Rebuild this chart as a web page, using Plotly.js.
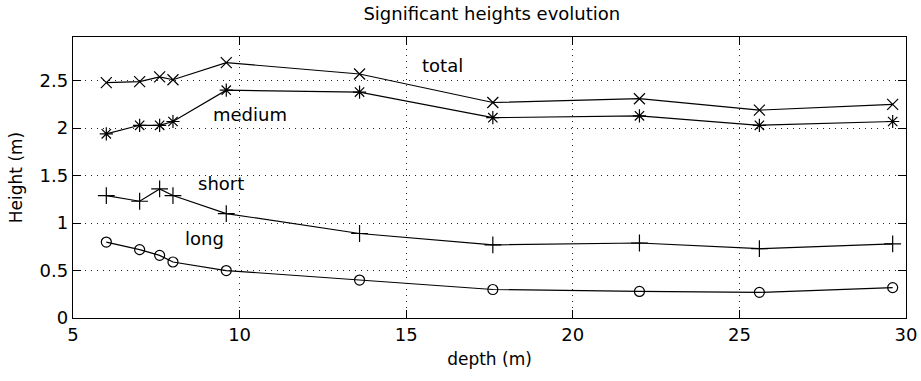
<!DOCTYPE html>
<html>
<head>
<meta charset="utf-8">
<script src="https://cdn.plot.ly/plotly-3.0.1.min.js"></script>
<style>
html,body{margin:0;padding:0;background:#fff;}
#chart{width:921px;height:381px;}
</style>
</head>
<body>
<div id="chart"></div>
<script>
const depth = [6, 7, 7.6, 8, 9.6, 13.6, 17.6, 22, 25.6, 29.6];
const total = [2.48, 2.49, 2.54, 2.51, 2.69, 2.57, 2.27, 2.31, 2.19, 2.25];
const medium = [1.94, 2.03, 2.03, 2.07, 2.40, 2.38, 2.11, 2.13, 2.03, 2.07];
const shortW = [1.29, 1.23, 1.36, 1.29, 1.10, 0.89, 0.77, 0.79, 0.73, 0.78];
const longW = [0.80, 0.72, 0.66, 0.59, 0.50, 0.40, 0.30, 0.28, 0.27, 0.32];
const labels = ["total", "medium", "short", "long"];
const labelX = [16.1, 10.3, 9.45, 8.95];
const labelY = [2.655, 2.143, 1.413, 0.842];
const xTicks = [5, 10, 15, 20, 25, 30];
const yTicks = [0, 0.5, 1, 1.5, 2, 2.5];

const FONT = "DejaVu Sans, Verdana, sans-serif";
function tr(y, sym, size) {
  return {
    x: depth, y: y, type: "scatter", mode: "lines+markers",
    line: {color: "#000", width: 1.2},
    marker: {symbol: sym, size: size, color: "#000", line: {color: "#000", width: 1.2}},
    showlegend: false, hoverinfo: "skip"
  };
}
const data = [
  tr(total, "x-thin-open", 11),
  tr(medium, "asterisk-open", 11),
  tr(shortW, "cross-thin-open", 12),
  tr(longW, "circle-open", 10)
];
const annotations = labels.map((t, i) => ({
  x: labelX[i], y: labelY[i], xref: "x", yref: "y", text: t,
  showarrow: false, font: {family: FONT, size: 18, color: "#000"}
}));
const axisCommon = {
  showline: true, linecolor: "#000", linewidth: 1.2, mirror: "ticks",
  ticks: "inside", ticklen: 8, tickcolor: "#000", tickwidth: 1,
  showgrid: true, gridcolor: "#222", griddash: "1px,5px", gridwidth: 1,
  zeroline: false, tickfont: {family: FONT, size: 18, color: "#000"}
};
const layout = {
  width: 921, height: 381,
  margin: {l: 73, r: 15, t: 37, b: 63},
  paper_bgcolor: "#fff", plot_bgcolor: "#fff",
  title: {text: "Significant heights evolution", font: {family: FONT, size: 18, color: "#000"},
          x: 0.534, xanchor: "center", y: 0.98, yanchor: "top"},
  xaxis: Object.assign({}, axisCommon, {
    range: [5, 30], tickvals: xTicks, ticktext: xTicks.map(String),
    title: {text: "depth (m)", font: {family: FONT, size: 17, color: "#000"}, standoff: 9}
  }),
  yaxis: Object.assign({}, axisCommon, {
    range: [0, 2.96], tickvals: yTicks, ticktext: yTicks.map(String),
    title: {text: "Height (m)", font: {family: FONT, size: 17, color: "#000"}, standoff: 12}
  }),
  annotations: annotations
};
Plotly.newPlot("chart", data, layout, {displayModeBar: false, staticPlot: true});
</script>
</body>
</html>
